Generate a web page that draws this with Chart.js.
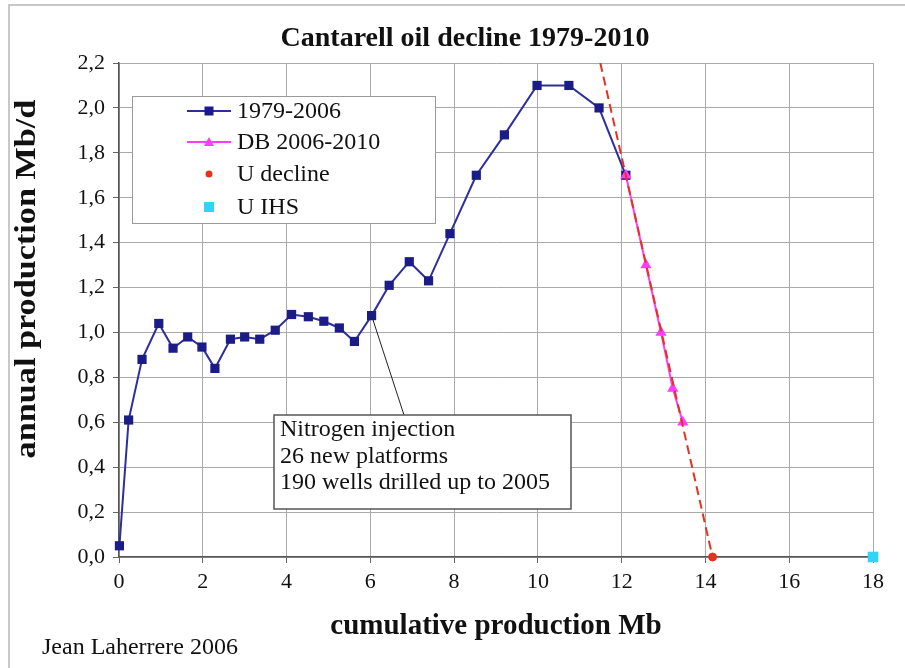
<!DOCTYPE html>
<html>
<head>
<meta charset="utf-8">
<script src="https://cdn.jsdelivr.net/npm/chart.js@4.4.1/dist/chart.umd.min.js"></script>
<style>
  html, body { margin: 0; padding: 0; background: #fff; }
  #wrap { width: 905px; height: 668px; position: relative; }
</style>
</head>
<body>
<div id="wrap"><canvas id="c" width="905" height="668"></canvas></div>
<script>
// ---- Data ----
const cumulative1979 = [0.01, 0.23, 0.55, 0.95, 1.29, 1.64, 1.98, 2.29, 2.66, 3.00, 3.36, 3.73, 4.12, 4.52, 4.89, 5.26, 5.62, 6.03, 6.45, 6.93, 7.39, 7.90, 8.53, 9.20, 9.98, 10.74, 11.46, 12.10];
const production1979 = [0.05, 0.61, 0.88, 1.04, 0.93, 0.98, 0.935, 0.84, 0.97, 0.98, 0.97, 1.01, 1.08, 1.07, 1.05, 1.02, 0.96, 1.075, 1.21, 1.315, 1.23, 1.44, 1.70, 1.88, 2.10, 2.10, 2.00, 1.70];
const cumulativeDB = [12.10, 12.58, 12.94, 13.22, 13.46];
const productionDB = [1.70, 1.30, 1.00, 0.75, 0.60];
const cumulativeUDecline = [14.17];
const productionUDecline = [0.0];
const cumulativeUIHS = [18.0];
const productionUIHS = [0.0];
const cumulativeTrend = [11.49, 14.17];
const productionTrend = [2.2, 0.0];
const seriesNames = ["1979-2006", "DB 2006-2010", "U decline", "U IHS"];
const annotationLines = ["Nitrogen injection", "26 new platforms", "190 wells drilled up to 2005"];
const annotatedPointIndex = 17;
const titleText = "Cantarell oil decline 1979-2010";
const xTitle = "cumulative production Mb";
const yTitle = "annual production Mb/d";
const creditText = "Jean Laherrere 2006";

const pts = (xs, ys) => xs.map((x, i) => ({ x: x, y: ys[i] }));

const SERIF = '"Liberation Serif", "Times New Roman", serif';
const NAVY = '#1c1c88';
const NAVY_LINE = '#2e2e9e';
const MAGENTA = '#ff3cff';
const RED = '#e5321f';
const CYAN = '#2fd4f7';

const decorPlugin = {
  id: 'decor',
  beforeDraw(chart) {
    const ctx = chart.ctx;
    ctx.save();
    ctx.fillStyle = '#fff';
    ctx.fillRect(0, 0, chart.width, chart.height);
    ctx.strokeStyle = '#c8c8c8';
    ctx.lineWidth = 2;
    ctx.beginPath();
    ctx.moveTo(9, chart.height);
    ctx.lineTo(9, 5);
    ctx.lineTo(chart.width, 5);
    ctx.stroke();
    ctx.restore();
  },
  afterDatasetsDraw(chart) {
    const ctx = chart.ctx;
    ctx.save();
    // ---- legend ----
    const lx = 132, ly = 96, lw = 303, lh = 127;
    ctx.fillStyle = '#fff';
    ctx.fillRect(lx, ly, lw, lh);
    ctx.strokeStyle = '#9a9a9a';
    ctx.lineWidth = 1;
    ctx.strokeRect(lx + 0.5, ly + 0.5, lw, lh);
    const rows = [111, 142, 174, 207];
    ctx.font = '24px ' + SERIF;
    ctx.textBaseline = 'middle';
    ctx.textAlign = 'left';
    const sx0 = 187, sx1 = 231, smid = 209, tx = 237;
    ctx.strokeStyle = NAVY_LINE; ctx.lineWidth = 2;
    ctx.beginPath(); ctx.moveTo(sx0, rows[0]); ctx.lineTo(sx1, rows[0]); ctx.stroke();
    ctx.fillStyle = NAVY; ctx.fillRect(smid - 4.5, rows[0] - 4.5, 9, 9);
    ctx.strokeStyle = MAGENTA; ctx.lineWidth = 2;
    ctx.beginPath(); ctx.moveTo(sx0, rows[1]); ctx.lineTo(sx1, rows[1]); ctx.stroke();
    ctx.fillStyle = MAGENTA;
    ctx.beginPath(); ctx.moveTo(smid, rows[1] - 5); ctx.lineTo(smid + 5, rows[1] + 4); ctx.lineTo(smid - 5, rows[1] + 4); ctx.closePath(); ctx.fill();
    ctx.fillStyle = RED;
    ctx.beginPath(); ctx.arc(smid, rows[2], 3.5, 0, Math.PI * 2); ctx.fill();
    ctx.fillStyle = CYAN; ctx.fillRect(smid - 5, rows[3] - 5, 10, 10);
    ctx.fillStyle = '#111';
    seriesNames.forEach((n, i) => ctx.fillText(n, tx, rows[i] + 1));

    // ---- annotation ----
    const meta = chart.getDatasetMeta(4);
    const p = meta.data[annotatedPointIndex];
    const bx = 274, by = 415, bw = 297, bh = 94;
    ctx.strokeStyle = '#222'; ctx.lineWidth = 1;
    ctx.beginPath(); ctx.moveTo(p.x, p.y); ctx.lineTo(404, by); ctx.stroke();
    ctx.fillStyle = '#fff';
    ctx.fillRect(bx, by, bw, bh);
    ctx.strokeStyle = '#555'; ctx.lineWidth = 1.5;
    ctx.strokeRect(bx, by, bw, bh);
    ctx.fillStyle = '#111';
    ctx.font = '24px ' + SERIF;
    ctx.textBaseline = 'alphabetic';
    annotationLines.forEach((t, i) => ctx.fillText(t, bx + 6, 436 + i * 26.5));
    ctx.restore();
  },
  afterDraw(chart) {
    const ctx = chart.ctx;
    ctx.save();
    ctx.fillStyle = '#111';
    ctx.textAlign = 'center';
    ctx.textBaseline = 'middle';
    ctx.font = 'bold 28px ' + SERIF;
    ctx.fillText(titleText, 465, 39);
    ctx.font = 'bold 29px ' + SERIF;
    ctx.fillText(xTitle, 496, 627);
    ctx.save();
    ctx.translate(28, 279);
    ctx.rotate(-Math.PI / 2);
    ctx.scale(1.18, 1);
    ctx.fillText(yTitle, 0, 0);
    ctx.restore();
    ctx.textAlign = 'left';
    ctx.font = '24px ' + SERIF;
    ctx.fillText(creditText, 42, 648);
    ctx.restore();
  }
};

new Chart(document.getElementById('c'), {
  type: 'scatter',
  data: {
    datasets: [
      { label: 'trend', data: pts(cumulativeTrend, productionTrend), showLine: true, borderColor: RED, borderWidth: 2, borderDash: [9, 5], pointRadius: 0, order: 0 },
      { label: seriesNames[2], data: pts(cumulativeUDecline, productionUDecline), pointStyle: 'circle', pointRadius: 4, backgroundColor: RED, borderColor: RED, order: 1, clip: false },
      { label: seriesNames[3], data: pts(cumulativeUIHS, productionUIHS), pointStyle: 'rect', pointRadius: 7.5, backgroundColor: CYAN, borderColor: CYAN, borderWidth: 0, order: 2, clip: false },
      { label: seriesNames[1], data: pts(cumulativeDB, productionDB), showLine: true, borderColor: MAGENTA, borderWidth: 2, pointStyle: 'triangle', pointRadius: 4.5, backgroundColor: MAGENTA, pointBorderColor: MAGENTA, order: 3, clip: false },
      { label: seriesNames[0], data: pts(cumulative1979, production1979), showLine: true, borderColor: NAVY_LINE, borderWidth: 2, pointStyle: 'rect', pointRadius: 6.5, pointBackgroundColor: NAVY, pointBorderColor: NAVY, pointBorderWidth: 0, order: 4, clip: false }
    ]
  },
  options: {
    responsive: false,
    animation: false,
    devicePixelRatio: 1,
    layout: { padding: { left: 0, right: 32, top: 63, bottom: 0 } },
    plugins: { legend: { display: false }, tooltip: { enabled: false }, title: { display: false } },
    scales: {
      x: {
        type: 'linear', min: 0, max: 18,
        afterFit(s) { s.height = 111; },
        ticks: { stepSize: 2, color: '#111', font: { family: SERIF, size: 22 }, padding: 6, maxRotation: 0, autoSkip: false },
        grid: { color: '#aaaaaa', lineWidth: 1, tickLength: 6, tickColor: '#666' },
        border: { color: '#555', width: 1.5 }
      },
      y: {
        type: 'linear', min: 0, max: 2.2,
        afterFit(s) { s.width = 119; },
        ticks: { stepSize: 0.2, color: '#111', font: { family: SERIF, size: 22 }, padding: 8,
          callback: v => v.toFixed(1).replace('.', ',') },
        grid: { color: '#aaaaaa', lineWidth: 1, tickLength: 6, tickColor: '#666' },
        border: { color: '#555', width: 1.5 }
      }
    }
  },
  plugins: [decorPlugin]
});
</script>
</body>
</html>
